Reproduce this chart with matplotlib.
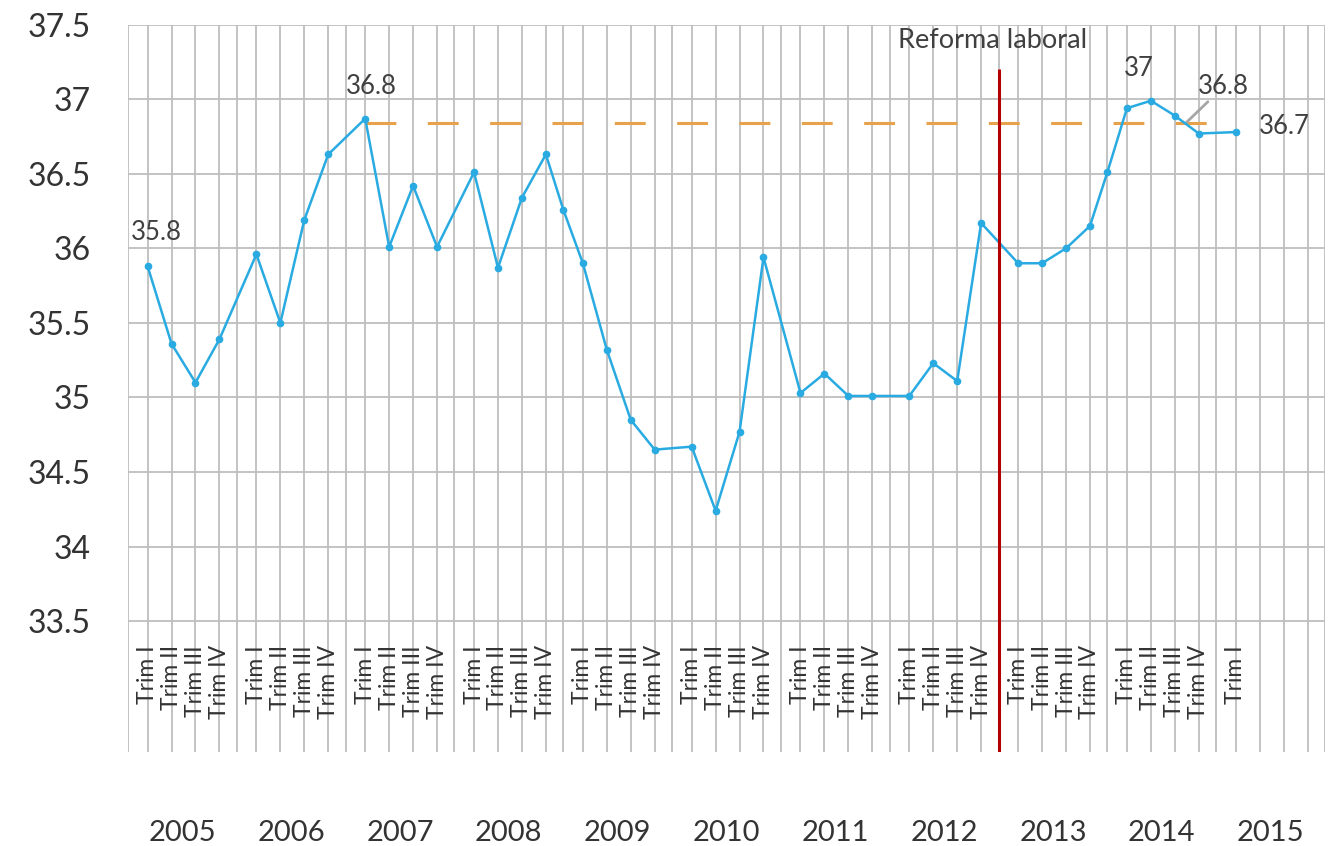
import numpy as np
import matplotlib.pyplot as plt
from matplotlib.transforms import blended_transform_factory

plt.rcParams['font.family'] = ['Lato', 'DejaVu Sans']

# datos
anios = ['2005', '2006', '2007', '2008', '2009', '2010', '2011', '2012', '2013', '2014', '2015']
trimestres = ['Trim I', 'Trim II', 'Trim III', 'Trim IV']
# puntos por año (hay dos puntos sueltos entre años: 2008/09 y 2013/14)
n_por_anio = [4, 4, 4, 4, 5, 4, 4, 4, 4, 5, 1]
slots = ([1, 2, 3, 4] * 4 + [0, 1, 2, 3, 4] + [1, 2, 3, 4] * 4
         + [0, 1, 2, 3, 4] + [1])
valores = [35.88, 35.36, 35.10, 35.39,
           35.96, 35.50, 36.19, 36.63,
           36.87, 36.01, 36.42, 36.01,
           36.51, 35.87, 36.34, 36.63,
           36.26, 35.90, 35.32, 34.85, 34.65,
           34.67, 34.24, 34.77, 35.94,
           35.03, 35.16, 35.01, 35.01,
           35.01, 35.23, 35.11, 36.17,
           35.90, 35.90, 36.00, 36.15,
           36.51, 36.94, 36.99, 36.89, 36.77,
           36.78]
referencia = 36.84
anio_reforma = '2013'

# posiciones en el eje (slot 0 = separacion entre años)
offs = [0.0, 0.9, 2.0, 3.1, 4.2]
anio_idx = np.repeat(np.arange(len(anios)), n_por_anio)
x = np.array([5 * a + offs[s] for a, s in zip(anio_idx, slots)])

fig = plt.figure(figsize=(13.38, 8.46), dpi=100)
ax = fig.add_axes([128 / 1338, 1 - 752 / 846, (1325 - 128) / 1338, (752 - 24.7) / 846])
ax.set_xlim(0, 5 * len(anios))
ax.set_ylim(32.622, 37.5)

grid_x = sorted([5 * a + o for a in range(len(anios)) for o in offs] + [5 * len(anios)])
yt = np.arange(33.5, 37.51, 0.5)
ax.set_xticks(grid_x)
ax.set_xticklabels([])
ax.set_yticks(yt)
ax.set_yticklabels(['{:g}'.format(v) for v in yt], fontsize=23, color='#333333')
ax.tick_params(length=0, pad=27)
ax.grid(color='#BEBEBE', lw=1.3)
ax.set_axisbelow(True)
for s in ax.spines.values():
    s.set_visible(False)

ax.plot(x, valores, color='#29ABE2', lw=1.8, marker='o', ms=4.5, zorder=4)

# linea de referencia
i0 = 8   # 2007 Trim I
i1 = len(valores) - 1
ax.plot([x[i0], x[i1]], [referencia, referencia], color='#E8A24C', lw=2.2,
        dashes=(10.1, 10.3), zorder=3)

# reforma laboral
xr = 5 * anios.index(anio_reforma)
ax.vlines(xr, 32.622, 37.2, color='#B40000', lw=2.2, zorder=5)
ax.annotate('Reforma laboral', xy=(xr, 37.2), xytext=(-4, 21), textcoords='offset points',
            ha='center', va='center', fontsize=19.5, color='#404040')

# etiquetas de datos
tc = '#404040'
fs = 18.5
ax.annotate('35.8', xy=(x[0], valores[0]), xytext=(6.6, 24.5), textcoords='offset points',
            ha='center', va='center', fontsize=fs, color=tc)
ax.annotate('36.8', xy=(x[i0], valores[i0]), xytext=(4.7, 22.8), textcoords='offset points',
            ha='center', va='center', fontsize=fs, color=tc)
ax.annotate('37', xy=(x[39], valores[39]), xytext=(-8.4, 23.3), textcoords='offset points',
            ha='center', va='center', fontsize=fs, color=tc)
ax.annotate('36.8', xy=(x[40] + 0.5, referencia), xytext=(27.4, 26.4), textcoords='offset points',
            ha='center', va='center', fontsize=fs, color=tc,
            arrowprops=dict(arrowstyle='-', color='#A6A6A6', lw=2, shrinkA=0, shrinkB=0))
ax.annotate('36.7', xy=(x[i1], valores[i1]), xytext=(34.7, 4.1), textcoords='offset points',
            ha='center', va='center', fontsize=fs, color=tc)

# etiquetas de categoria
tr = blended_transform_factory(ax.transData, ax.transAxes)
for xi, s in zip(x, slots):
    if s > 0:
        ax.text(xi, 0.147, trimestres[s - 1], transform=tr, rotation=90,
                ha='center', va='top', fontsize=16.5, color='#333333')
for a, anio in enumerate(anios):
    ax.text(5 * a + 2.5, -0.111, anio, transform=tr, ha='center', va='center',
            fontsize=21, color='#333333')

plt.savefig('out.png', dpi=100)
